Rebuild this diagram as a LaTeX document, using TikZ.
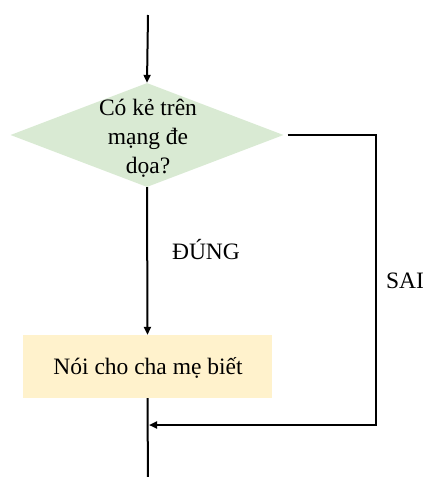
\documentclass[tikz,border=0pt]{standalone}
\usepackage{fontspec}
\setmainfont{Liberation Serif}
\usetikzlibrary{shapes.geometric,arrows.meta}
\definecolor{dgreen}{HTML}{D9EAD3}
\definecolor{byellow}{HTML}{FFF2CC}
\tikzset{
  arr/.style={line width=2pt,-{Triangle[length=8pt,width=7pt]}},
  ln/.style={line width=2pt},
  txt/.style={font=\fontsize{23.5}{29}\selectfont,align=center,inner sep=0pt},
  dia/.style={diamond,fill=dgreen,draw=none,inner sep=0pt,minimum width=273pt,minimum height=104pt,shape aspect=2.625},
  box/.style={rectangle,fill=byellow,draw=none,inner sep=0pt,minimum width=249pt,minimum height=63pt}
}
\begin{document}
\begin{tikzpicture}[x=1pt,y=-1pt]
\useasboundingbox (0,0) rectangle (431,477);
\node[dia] (d) at (147,135) {};
\node[txt] (dt) at (148,138) {Có kẻ trên\\mạng đe\\dọa?};
\node[box] (b) at (147.5,366.5) {};
\node[txt] (bt) at (148,368) {Nói cho cha mẹ biết};
\coordinate (top) at (148,15);
\coordinate (c1) at (376,135);
\coordinate (j) at (149,425);
\coordinate (bot) at (148,485);
\draw[arr] (top) -- (d.north);
\draw[arr] (d.south) -- (b.north);
\draw[arr] ([xshift=4pt]d.east) -- (c1) |- (j);
\draw[ln] (b.south) -- (bot);
\node[txt] (yes) at (206,250) {ĐÚNG};
\node[txt] (no) at (405,281) {SAI};
\end{tikzpicture}
\end{document}
